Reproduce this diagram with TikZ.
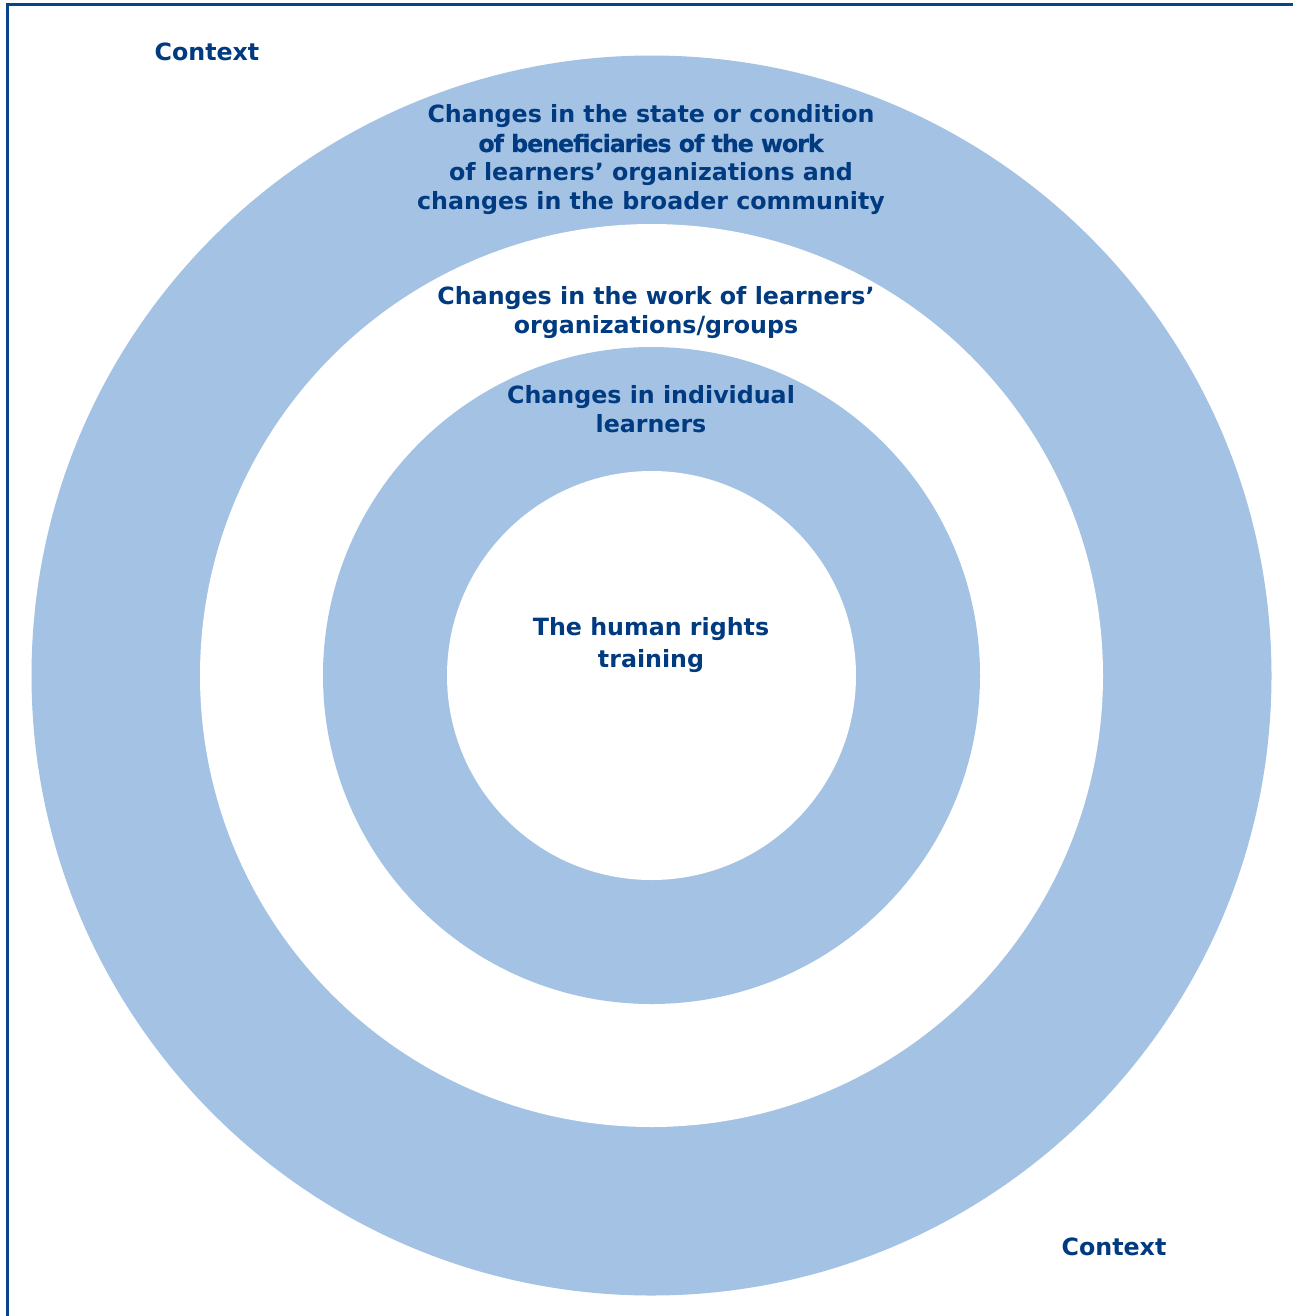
\documentclass[tikz,border=0pt]{standalone}
\usepackage{fontspec}
\setmainfont{DejaVu Sans}

\definecolor{ringblue}{HTML}{A4C2E3}
\definecolor{textblue}{HTML}{003A80}
\definecolor{frameblue}{HTML}{0B4389}

\tikzset{every node/.style={text=textblue, font=\bfseries\fontsize{6.75}{8.25}\selectfont, align=center, inner sep=0pt}}

\begin{document}
\begin{tikzpicture}
	\useasboundingbox (0,0) rectangle (12.93,-13.16);
	
	% Define rings
	\fill[ringblue] (6.515,-6.755) circle (6.2);
	\fill[white] (6.515,-6.755) circle (4.515);
	\fill[ringblue] (6.515,-6.755) circle (3.285);
	\fill[white] (6.515,-6.755) circle (2.045);
	
	% Frame
	\draw[frameblue, line width=0.025cm] (0.075,-13.16) -- (0.075,-0.043) -- (12.93,-0.043);
	
	% Define labels
	\node (ctxtop) at (2.07,-0.52) {Context};
	\node (ctxbot) at (11.14,-12.47) {Context};
	\node (outer) at (6.51,-1.60) {Changes in the state or condition\\{\addfontfeature{LetterSpace=-4.4,FakeBold=0.5}of beneficiaries of the work}\\of learners’ organizations and\\changes in the broader community};
	\node (middle) at (6.56,-3.125) {Changes in the work of learners’\\organizations/groups};
	\node (inner) at (6.51,-4.095) {Changes in individual\\learners};
	\node[font=\bfseries\fontsize{6.75}{9.1}\selectfont] (core) at (6.51,-6.455) {The human rights\\training};
\end{tikzpicture}
\end{document}
